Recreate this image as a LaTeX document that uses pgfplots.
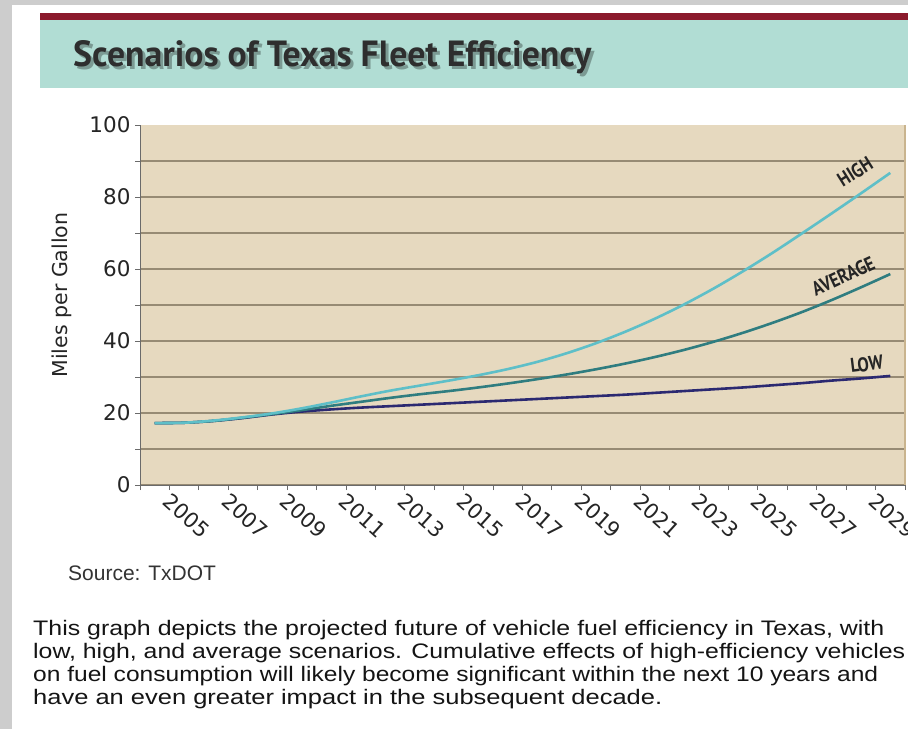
\documentclass[border=0pt]{standalone}
\usepackage{pgfplots}
\pgfplotsset{compat=1.18}
\usepackage{fontspec}
\setmainfont{Liberation Sans}
\newfontfamily\verdana{DejaVu Sans}
\newfontfamily\myriad{PT Sans}
\definecolor{bordergray}{HTML}{CDCDCD}
\definecolor{stripe}{HTML}{8B1A2C}
\definecolor{banner}{HTML}{B1DDD4}
\definecolor{titlegray}{HTML}{2E2E2E}
\definecolor{plottan}{HTML}{E6D9BF}
\definecolor{gridcol}{HTML}{978B74}
\definecolor{axisgray}{HTML}{6A6A6A}
\definecolor{borderbrown}{HTML}{C9B48E}
\definecolor{highc}{HTML}{5EBFC8}
\definecolor{avgc}{HTML}{2F7D80}
\definecolor{lowc}{HTML}{2B2971}
\definecolor{labelgray}{HTML}{252525}

\pgfplotstableread{
year high avg low
2005 17.2 17.2 17.2
2006 17.3 17.3 17.3
2007 17.9 17.8 17.8
2008 18.8 18.7 18.6
2009 19.9 19.7 19.6
2010 21.3 20.8 20.4
2011 22.9 22.0 21.0
2012 24.6 23.1 21.5
2013 26.2 24.2 21.9
2014 27.6 25.2 22.3
2015 29.0 26.1 22.7
2016 30.5 27.1 23.1
2017 32.2 28.2 23.5
2018 34.2 29.4 23.9
2019 36.6 30.7 24.3
2020 39.4 32.15 24.7
2021 42.6 33.75 25.1
2022 46.2 35.55 25.6
2023 50.2 37.55 26.1
2024 54.6 39.8 26.6
2025 59.4 42.3 27.1
2026 64.5 45.05 27.7
2027 69.9 48.05 28.3
2028 75.4 51.35 29.0
2029 81.0 54.9 29.6
2030 86.7 58.6 30.3
}\fleet

\begin{document}
\begin{tikzpicture}[x=1pt,y=1pt]
\path[use as bounding box] (0,0) rectangle (908,-729);
\fill[bordergray] (0,0) rectangle (908,-729);
\fill[white] (12,-5) rectangle (908,-729);
\fill[stripe] (40,-13) rectangle (908,-20);
\fill[banner] (40,-20) rectangle (908,-88);
% title with soft shadow
\node[anchor=base west, inner sep=0, text=black, opacity=0.3] at (76,-69)
    {\resizebox{518pt}{26pt}{\myriad\bfseries Scenarios of Texas Fleet Efficiency}};
\node[anchor=base west, inner sep=0, text=titlegray] at (73,-66)
  {\resizebox{518pt}{26pt}{\myriad\bfseries Scenarios of Texas Fleet Efficiency}};

\begin{axis}[
  at={(140pt,-485pt)}, anchor=south west,
  scale only axis, width=765pt, height=360pt,
  xmin=2004.5, xmax=2030.5, ymin=0, ymax=100,
  axis background/.style={fill=plottan},
  axis x line*=bottom, axis y line*=left,
  axis line style={draw=axisgray, line width=1pt, -},
  clip=false,
  ytick={0,20,...,80}, minor ytick={10,30,...,90},
  extra y ticks={100}, extra y tick style={grid=none},
  ymajorgrids, yminorgrids,
  major grid style={color=gridcol, line width=1.4pt},
  minor grid style={color=gridcol, line width=1.4pt},
  tick align=outside, major tick length=5pt, minor tick length=5pt,
  every tick/.style={color=axisgray, line width=0.9pt},
  xtick={2004.5,2005.5,...,2030.5}, xticklabel=\empty,
  extra x ticks={2005,2007,...,2029},
  extra x tick labels={2005,2007,2009,2011,2013,2015,2017,2019,2021,2023,2025,2027,2029},
  extra x tick style={major tick length=0pt, grid=none,
    xticklabel style={xshift=17pt, yshift=-7pt, rotate=-42, anchor=north west, inner sep=0pt}},
  /pgf/number format/assume math mode=true,
  ticklabel style={font=\verdana\fontsize{21}{21}\selectfont, text=labelgray},
  yticklabel style={xshift=-1pt, font=\verdana\fontsize{21.5}{21.5}\selectfont},
]
\draw[borderbrown, line width=1.2pt] (axis cs:2030.5,0) -- (axis cs:2030.5,100);
\addplot[lowc, line width=2.6pt, smooth] table[x=year, y=low] {\fleet};
\addplot[avgc, line width=2.6pt, smooth] table[x=year, y=avg] {\fleet};
\addplot[highc, line width=2.6pt, smooth] table[x=year, y=high] {\fleet};
\node[rotate=32, text=labelgray, inner sep=0] at (axis cs:2028.8,87.0)
  {\scalebox{0.85}[1]{\myriad\bfseries\fontsize{20}{20}\selectfont HIGH}};
\node[rotate=25, text=labelgray, inner sep=0] at (axis cs:2028.4,58.0)
  {\scalebox{0.85}[1]{\myriad\bfseries\fontsize{20}{20}\selectfont AVERAGE}};
\node[rotate=7, text=labelgray, inner sep=0] at (axis cs:2029.2,33.6)
  {\scalebox{0.85}[1]{\myriad\bfseries\fontsize{20}{20}\selectfont LOW}};
\end{axis}

\node[rotate=90, text=labelgray, font=\verdana\fontsize{20.5}{20.5}\selectfont] at (62,-295) {Miles per Gallon};
\node[anchor=base west, inner sep=0, text=black!80, font=\fontsize{21}{21}\selectfont] at (68,-580) {Source: TxDOT};
\node[anchor=base west, inner sep=0, text=black!92, font=\fontsize{21}{21}\selectfont] at (33,-635)
  {\resizebox{851pt}{\height}{This graph depicts the projected future of vehicle fuel efficiency in Texas, with}};
\node[anchor=base west, inner sep=0, text=black!92, font=\fontsize{21}{21}\selectfont] at (33,-658)
  {\resizebox{872pt}{\height}{low, high, and average scenarios. Cumulative effects of high-efficiency vehicles}};
\node[anchor=base west, inner sep=0, text=black!92, font=\fontsize{21}{21}\selectfont] at (33,-681)
  {\resizebox{845pt}{\height}{on fuel consumption will likely become significant within the next 10 years and}};
\node[anchor=base west, inner sep=0, text=black!92, font=\fontsize{21}{21}\selectfont] at (33,-704)
  {\resizebox{629pt}{\height}{have an even greater impact in the subsequent decade.}};
\end{tikzpicture}
\end{document}
